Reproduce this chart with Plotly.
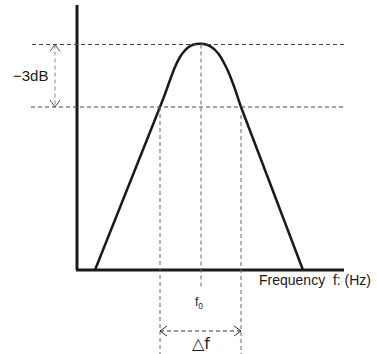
import plotly.graph_objects as go

# response curve (arbitrary units, origin at the axes corner)
freq = [18, 83, 88, 93, 98, 103, 107, 111, 116, 123,
        130, 135, 139, 143, 147, 151, 155, 159, 164, 226]
level = [0, 163, 176, 190, 203, 213, 218.5, 222.5, 225.2, 226.2,
         225.2, 222.5, 219, 214, 207, 199, 189, 178, 163, 0]

f0 = 124
f_low = 83
f_high = 164
peak_level = 225.5
level_3db = 163

x_axis_end = 267
y_axis_end = 265

DASH = "4px,3px"
FONT = "Liberation Sans, Arial, Helvetica, sans-serif"

fig = go.Figure()

fig.add_trace(go.Scatter(
    x=freq, y=level,
    mode="lines",
    line=dict(color="#1a1a1a", width=2.5, shape="spline", smoothing=0.5),
    showlegend=False,
    hoverinfo="skip",
))


def hline(y, x0, x1, color):
    return dict(type="line", x0=x0, x1=x1, y0=y, y1=y,
                line=dict(color=color, width=1, dash=DASH))


def vline(x, y0, y1, color):
    return dict(type="line", x0=x, x1=x, y0=y0, y1=y1,
                line=dict(color=color, width=1, dash=DASH))


shapes = [
    # axes
    dict(type="line", x0=0, x1=0, y0=0, y1=y_axis_end, line=dict(color="#1a1a1a", width=3)),
    dict(type="line", x0=-1, x1=x_axis_end, y0=0, y1=0, line=dict(color="#1a1a1a", width=3)),
    # reference lines
    hline(peak_level, -45, x_axis_end, "#444444"),
    hline(level_3db, -46, x_axis_end, "#444444"),
    vline(f_low, level_3db, -84, "#666666"),
    vline(f0, peak_level, -17, "#666666"),
    vline(f_high, level_3db - 8, -84, "#666666"),
    # -3dB arrow
    vline(-22, peak_level, level_3db, "#888888"),
    dict(type="path", path=f"M -27,{peak_level - 7} L -22,{peak_level} L -17,{peak_level - 7}",
         line=dict(color="#555555", width=1)),
    dict(type="path", path=f"M -27,{level_3db + 7} L -22,{level_3db} L -17,{level_3db + 7}",
         line=dict(color="#555555", width=1)),
    # bandwidth arrow
    hline(-61, f_low, f_high, "#333333"),
    dict(type="path", path=f"M {f_low + 7},-56 L {f_low},-61 L {f_low + 7},-66",
         line=dict(color="#333333", width=1)),
    dict(type="path", path=f"M {f_high - 7},-56 L {f_high},-61 L {f_high - 7},-66",
         line=dict(color="#333333", width=1)),
]

annotations = [
    dict(x=-27, y=195, text="−3dB", xanchor="right", yanchor="middle",
         showarrow=False, font=dict(size=15, color="#1a1a1a", family=FONT)),
    dict(x=180, y=-10, text="Frequency  f: (Hz)", xanchor="left", yanchor="middle",
         showarrow=False, font=dict(size=14, color="#1a1a1a", family=FONT)),
    dict(x=f0 - 2, y=-33, text="f<sub>0</sub>", xanchor="center", yanchor="middle",
         showarrow=False, font=dict(size=12, color="#1a1a1a", family=FONT)),
    dict(x=f0, y=-73, text="△f", xanchor="center", yanchor="middle",
         showarrow=False, font=dict(size=16, color="#1a1a1a", family="DejaVu Sans")),
]

fig.update_layout(
    width=377,
    height=354,
    margin=dict(l=0, r=0, t=0, b=0),
    paper_bgcolor="white",
    plot_bgcolor="white",
    xaxis=dict(range=[-77, 300], visible=False, fixedrange=True),
    yaxis=dict(range=[-84, 270], visible=False, fixedrange=True),
    shapes=shapes,
    annotations=annotations,
    showlegend=False,
)

fig.write_html("out.html", config={"displayModeBar": False},
               post_script="document.body.style.margin='0';")
